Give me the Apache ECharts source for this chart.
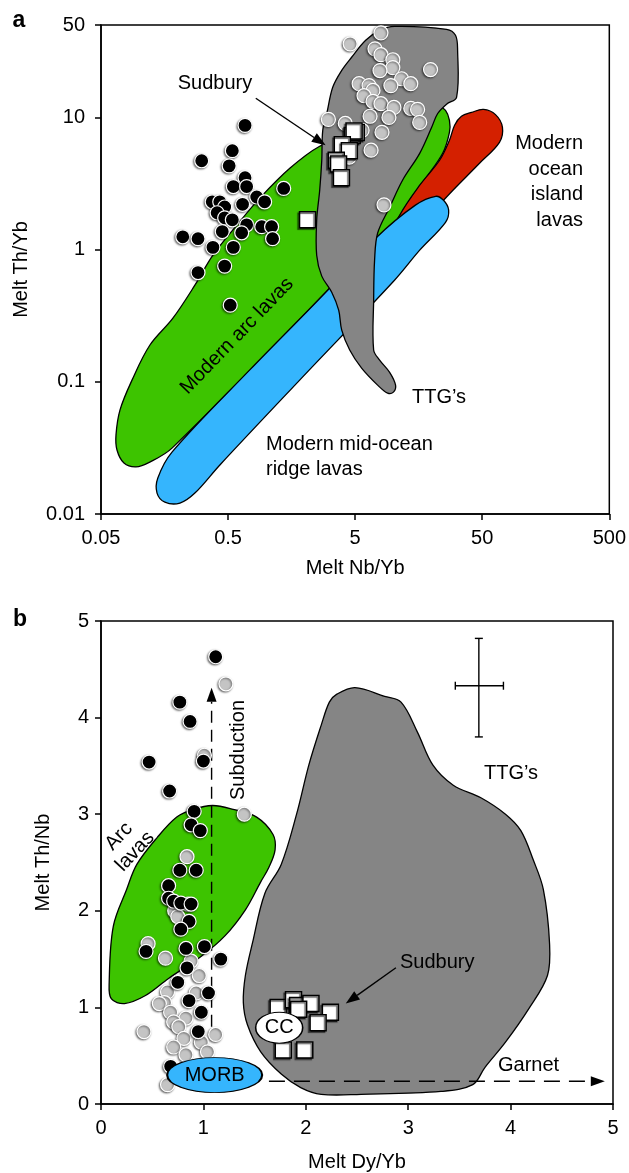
<!DOCTYPE html>
<html>
<head>
<meta charset="utf-8">
<script src="https://cdn.jsdelivr.net/npm/echarts@6/dist/echarts.min.js"></script>
<style>
  html, body { margin: 0; background: #fff; }
  #chart { width: 629px; height: 1173px; }
</style>
</head>
<body>
<div id="chart"></div>
<script>
// ---------- panel a : melt Nb/Yb vs melt Th/Yb (log-log) ----------
const xTicksA = [0.05, 0.5, 5, 50, 500]
const yTicksA = [0.01, 0.1, 1, 10, 50]

// black circles
const blackA = [
  [0.68, 8.7], [0.54, 5.6], [0.31, 4.7], [0.51, 4.3], [0.68, 3.5], [0.55, 3.0], [0.70, 3.0],
  [0.84, 2.5], [0.97, 2.3], [0.375, 2.3], [0.43, 2.3], [0.47, 2.1], [0.65, 2.2], [0.41, 1.9],
  [0.47, 1.74], [0.54, 1.68], [0.70, 1.54], [0.92, 1.49], [1.10, 1.49], [0.45, 1.37], [0.64, 1.34],
  [1.12, 1.21], [0.22, 1.25], [0.29, 1.21], [0.38, 1.04], [0.55, 1.04], [0.47, 0.75], [0.29, 0.67],
  [0.52, 0.38], [1.37, 2.9]
]
// grey circles
const greyA = [
  [7.98, 43.6], [4.57, 36], [7.16, 33], [7.98, 29.8], [9.9, 27.3], [19.6, 23], [9.9, 23.8],
  [7.84, 22.6], [11.6, 19.6], [13.7, 18], [5.37, 18], [6.43, 17.4], [6.91, 16], [9.55, 17.4],
  [5.87, 14.6], [6.91, 13.2], [7.98, 12.7], [10.1, 11.9], [13.7, 11.7], [15.5, 11.5], [6.55, 10.2],
  [9.22, 10], [16.1, 9.17], [3.08, 9.66], [4.18, 9.0], [5.67, 7.98], [8.13, 7.71], [6.67, 5.65],
  [8.43, 2.18], [4.49, 5.0]
]
// Sudbury squares
const sudburyA = [
  [4.74, 7.3], [5.1, 7.7], [4.9, 7.9], [3.96, 6.2], [4.5, 5.6], [3.55, 4.75], [3.7, 4.45],
  [3.9, 3.5], [2.11, 1.68]
]
const sudburyArrowA = [[0.826, 13.95], [2.93, 6.15]]

// fields (outline vertices)
const arcFieldA = [
  [23.1, 11.9], [25.7, 11.3], [27.6, 9.51], [27.6, 7.72], [24.4, 5.35], [18.2, 3.53], [13.4, 2.36],
  [10.6, 1.67], [7.79, 1.18], [4.53, 0.803], [3.04, 0.493], [0.181, 0.0315], [0.121, 0.0247],
  [0.0942, 0.0227], [0.0758, 0.0243], [0.0668, 0.0305], [0.0656, 0.0395], [0.0705, 0.0611],
  [0.0877, 0.103], [0.121, 0.189], [0.184, 0.303], [0.274, 0.538], [0.380, 0.907], [0.586, 1.53],
  [0.888, 2.45], [1.53, 4.12], [2.63, 6.05], [5.42, 7.99], [16.1, 10.9]
]
const oibFieldA = [
  [41.2, 10.9], [51.1, 11.5], [63.6, 10.5], [72.1, 8.42], [68.3, 6.48], [47.6, 4.50], [24.8, 2.36],
  [17.6, 1.53], [12.2, 1.08], [9.34, 1.18], [11.2, 1.82], [16.1, 3.07], [23.1, 4.74], [27.6, 6.71],
  [30.3, 8.72], [34.3, 10.2]
]
const morbFieldA = [
  [21.5, 2.53], [24.8, 2.36], [27.2, 1.99], [25.7, 1.61], [16.1, 0.990], [10.2, 0.587], [1.83, 0.103],
  [0.431, 0.0235], [0.274, 0.0144], [0.209, 0.0121], [0.159, 0.0123], [0.138, 0.0144], [0.140, 0.0187],
  [0.181, 0.0294], [0.741, 0.123], [3.04, 0.493], [7.25, 1.22], [14.9, 2.17]
]
const ttgFieldA = [
  [2.73, 4.74], [2.78, 7.99], [2.99, 10.7], [3.33, 16.9], [3.92, 22.7], [4.69, 28.5], [6.05, 38.3],
  [7.79, 45.5], [10.2, 48.8], [26.2, 46.4], [30.8, 41.8], [32.0, 32.2], [31.4, 14.2], [26.2, 12.6],
  [22.3, 10.7], [20.0, 8.42], [16.1, 5.35], [11.8, 3.35], [9.34, 2.09], [7.51, 1.33], [7.11, 0.832],
  [6.99, 0.415], [6.99, 0.174], [7.79, 0.146], [9.34, 0.118], [10.4, 0.0944], [10.0, 0.0836],
  [9.0, 0.0821], [7.51, 0.0944], [5.62, 0.127], [4.53, 0.174], [3.92, 0.246], [3.71, 0.348],
  [3.27, 0.476], [2.73, 0.630], [2.49, 0.907], [2.49, 1.67], [2.63, 2.81]
]

// ---------- panel b : melt Dy/Yb vs melt Th/Nb ----------
const xTicksB = [0, 1, 2, 3, 4, 5]
const yTicksB = [0, 1, 2, 3, 4, 5]

const blackB = [
  [1.12, 4.63], [0.77, 4.16], [0.87, 3.96], [0.47, 3.54], [1.00, 3.55], [0.67, 3.24], [0.91, 3.03],
  [0.88, 2.89], [0.97, 2.83], [0.77, 2.42], [0.93, 2.42], [0.66, 2.26], [0.66, 2.13], [0.71, 2.10],
  [0.78, 2.08], [0.88, 2.07], [0.86, 1.89], [0.78, 1.81], [0.44, 1.58], [0.83, 1.61], [1.01, 1.63],
  [1.17, 1.50], [0.84, 1.41], [0.75, 1.26], [1.05, 1.15], [0.86, 1.07], [0.98, 0.95], [0.95, 0.75],
  [0.68, 0.39]
]
const greyB = [
  [1.22, 4.35], [1.01, 3.61], [1.40, 3.00], [0.84, 2.56], [0.85, 2.07], [0.72, 2.0], [0.75, 1.94],
  [0.46, 1.66], [0.63, 1.51], [0.88, 1.48], [0.96, 1.33], [0.65, 1.16], [0.93, 1.15], [0.62, 1.05],
  [0.57, 1.04], [0.68, 0.95], [0.83, 0.89], [0.71, 0.85], [0.76, 0.80], [0.42, 0.75], [1.12, 0.72],
  [0.81, 0.68], [0.98, 0.64], [0.71, 0.59], [1.04, 0.54], [0.83, 0.51], [0.65, 0.20]
]
const sudburyB = [
  [1.73, 1.00], [1.88, 1.08], [1.92, 1.02], [2.05, 1.04], [2.24, 0.95], [1.93, 0.98], [2.12, 0.84],
  [1.78, 0.56], [1.99, 0.56]
]
const morbB = [[1.11, 0.30]]
const ccB = [[1.74, 0.79]]
const subductionArrow = [[1.08, 0.80], [1.08, 4.31]]
const garnetArrow = [[1.64, 0.235], [4.92, 0.235]]
const sudburyArrowB = [[2.88, 1.41], [2.39, 1.04]]
const errorCentre = [3.69, 4.33]
const errorX = [3.46, 3.93]
const errorY = [3.80, 4.82]

const arcFieldB = [
  [1.09, 3.09], [1.29, 3.05], [1.52, 2.97], [1.68, 2.79], [1.70, 2.63], [1.64, 2.45], [1.56, 2.30],
  [1.41, 2.01], [1.21, 1.74], [0.98, 1.53], [0.66, 1.30], [0.43, 1.12], [0.23, 1.04], [0.10, 1.09],
  [0.08, 1.26], [0.12, 1.84], [0.25, 2.22], [0.35, 2.48], [0.55, 2.76], [0.74, 2.97], [0.90, 3.05]
]
const ttgFieldB = [
  [2.48, 4.31], [2.77, 4.22], [2.93, 4.16], [3.09, 3.85], [3.24, 3.51], [3.44, 3.30], [3.71, 3.17],
  [3.95, 3.00], [4.10, 2.83], [4.22, 2.53], [4.32, 2.22], [4.38, 1.67], [4.36, 1.33], [4.18, 0.99],
  [3.95, 0.64], [3.75, 0.38], [3.63, 0.20], [3.32, 0.13], [2.54, 0.10], [2.15, 0.10], [1.95, 0.17],
  [1.76, 0.31], [1.56, 0.54], [1.43, 0.82], [1.39, 1.05], [1.41, 1.33], [1.48, 1.67], [1.60, 2.18],
  [1.76, 2.48], [1.91, 3.00], [2.03, 3.51], [2.15, 3.92], [2.23, 4.16], [2.30, 4.24]
]

// ---------- chart ----------
const FONT = '"Liberation Sans", Arial, sans-serif'
const GREEN = '#3dc400'
const BLUE = '#35b5fd'
const RED = '#d42000'
const GREY = '#858585'

// panel a is drawn on value axes holding log10 values
const logA = p => [Math.log10(p[0] / xTicksA[0]), Math.log10(p[1])]
const linB = p => p
const fmt = v => String(Number(v.toPrecision(2)))

const chart = echarts.init(document.getElementById('chart'))

function field(points, color, idx, tf) {
  return {
    type: 'custom',
    xAxisIndex: idx,
    yAxisIndex: idx,
    silent: true,
    clip: true,
    data: [[tf(points[0])[0], tf(points[0])[1]]],
    renderItem: (params, api) => ({
      type: 'polygon',
      shape: { points: points.map(p => api.coord(tf(p))), smooth: 0.35 },
      style: { fill: color, stroke: '#000', lineWidth: 1.3 }
    })
  }
}

function arrow(pts, idx, tf, dash) {
  return {
    type: 'custom',
    xAxisIndex: idx,
    yAxisIndex: idx,
    silent: true,
    data: [tf(pts[0])],
    renderItem: (params, api) => {
      const a = api.coord(tf(pts[0]))
      const b = api.coord(tf(pts[1]))
      const ang = Math.atan2(b[1] - a[1], b[0] - a[0])
      const len = 14, half = 5
      const base = [b[0] - len * Math.cos(ang), b[1] - len * Math.sin(ang)]
      const l = [base[0] + half * Math.sin(ang), base[1] - half * Math.cos(ang)]
      const r = [base[0] - half * Math.sin(ang), base[1] + half * Math.cos(ang)]
      return {
        type: 'group',
        children: [
          { type: 'line', shape: { x1: a[0], y1: a[1], x2: base[0], y2: base[1] },
            style: { stroke: '#000', lineWidth: 1.4, lineDash: dash || null } },
          { type: 'polygon', shape: { points: [b, l, r] }, style: { fill: '#000' } }
        ]
      }
    }
  }
}

function dots(points, color, idx, tf) {
  return {
    type: 'scatter',
    xAxisIndex: idx,
    yAxisIndex: idx,
    silent: true,
    symbol: 'circle',
    symbolSize: 14,
    data: points.map(tf),
    itemStyle: {
      color: color, borderColor: '#fff', borderWidth: 1.2, opacity: 1,
      shadowColor: 'rgba(0,0,0,0.55)', shadowBlur: 2, shadowOffsetX: -1, shadowOffsetY: 1
    }
  }
}

function squares(points, idx, tf) {
  return {
    type: 'scatter',
    xAxisIndex: idx,
    yAxisIndex: idx,
    silent: true,
    symbol: 'rect',
    symbolSize: 16,
    data: points.map(tf),
    itemStyle: {
      color: '#fff', borderColor: '#000', borderWidth: 1.5, opacity: 1,
      shadowColor: 'rgba(0,0,0,0.6)', shadowBlur: 1, shadowOffsetX: -1.5, shadowOffsetY: 1.5
    }
  }
}

const axisCommon = {
  axisLine: { onZero: false, lineStyle: { color: '#000', width: 1.5 } },
  axisTick: { length: 6, lineStyle: { color: '#000', width: 1.5 } },
  splitLine: { show: false },
  nameLocation: 'middle',
  nameTextStyle: { fontFamily: FONT, fontSize: 20, color: '#000' }
}

function label(text, x, y, opts) {
  const o = opts || {}
  return {
    type: 'text',
    x: x,
    y: y,
    rotation: o.rotation || 0,
    silent: true,
    z: 100,
    style: {
      text: text,
      font: (o.weight || 'normal') + ' ' + (o.size || 20) + 'px ' + FONT,
      fill: '#000',
      align: o.align || 'center',
      textAlign: o.align || 'center',
      verticalAlign: 'middle',
      textVerticalAlign: 'middle',
      lineHeight: o.lineHeight || 24
    }
  }
}

chart.setOption({
  animation: false,
  backgroundColor: '#fff',
  textStyle: { fontFamily: FONT },
  grid: [
    { left: 101, top: 25, width: 509, height: 489, show: true, borderColor: '#000', borderWidth: 1.5 },
    { left: 101, top: 621, width: 512, height: 489, show: true, borderColor: '#000', borderWidth: 1.5 }
  ],
  xAxis: [
    Object.assign({}, axisCommon, {
      gridIndex: 0, type: 'value', min: 0, max: 4, interval: 1,
      name: 'Melt Nb/Yb', nameGap: 44,
      axisLabel: { margin: 14, fontSize: 20, color: '#000', fontFamily: FONT,
        formatter: v => fmt(xTicksA[0] * Math.pow(10, v)) }
    }),
    Object.assign({}, axisCommon, {
      gridIndex: 1, type: 'value', min: xTicksB[0], max: xTicksB[xTicksB.length - 1], interval: 1,
      name: 'Melt Dy/Yb', nameGap: 48,
      axisLabel: { margin: 14, fontSize: 20, color: '#000', fontFamily: FONT }
    })
  ],
  yAxis: [
    Object.assign({}, axisCommon, {
      gridIndex: 0, type: 'value', min: Math.log10(yTicksA[0]),
      max: Math.log10(yTicksA[yTicksA.length - 1]), interval: 1,
      name: 'Melt Th/Yb', nameGap: 70,
      axisLabel: { margin: 16, fontSize: 20, color: '#000', fontFamily: FONT,
        formatter: v => fmt(Math.pow(10, v)) }
    }),
    Object.assign({}, axisCommon, {
      gridIndex: 1, type: 'value', min: yTicksB[0], max: yTicksB[yTicksB.length - 1], interval: 1,
      name: 'Melt Th/Nb', nameGap: 48,
      axisLabel: { margin: 12, fontSize: 20, color: '#000', fontFamily: FONT }
    })
  ],
  series: [
    // panel a
    field(arcFieldA, GREEN, 0, logA),
    field(oibFieldA, RED, 0, logA),
    field(morbFieldA, BLUE, 0, logA),
    field(ttgFieldA, GREY, 0, logA),
    arrow(sudburyArrowA, 0, logA),
    dots(greyA, '#c4c4c4', 0, logA),
    dots(blackA, '#000', 0, logA),
    squares(sudburyA, 0, logA),

    // panel b
    field(ttgFieldB, GREY, 1, linB),
    field(arcFieldB, GREEN, 1, linB),
    {
      type: 'custom', xAxisIndex: 1, yAxisIndex: 1, silent: true,
      data: [errorCentre],
      renderItem: (params, api) => {
        const c = api.coord(errorCentre)
        const x0 = api.coord([errorX[0], errorCentre[1]])[0]
        const x1 = api.coord([errorX[1], errorCentre[1]])[0]
        const y0 = api.coord([errorCentre[0], errorY[0]])[1]
        const y1 = api.coord([errorCentre[0], errorY[1]])[1]
        const st = { stroke: '#000', lineWidth: 1.4 }
        const cap = 4
        return {
          type: 'group',
          children: [
            { type: 'line', shape: { x1: x0, y1: c[1], x2: x1, y2: c[1] }, style: st },
            { type: 'line', shape: { x1: c[0], y1: y0, x2: c[0], y2: y1 }, style: st },
            { type: 'line', shape: { x1: x0, y1: c[1] - cap, x2: x0, y2: c[1] + cap }, style: st },
            { type: 'line', shape: { x1: x1, y1: c[1] - cap, x2: x1, y2: c[1] + cap }, style: st },
            { type: 'line', shape: { x1: c[0] - cap, y1: y0, x2: c[0] + cap, y2: y0 }, style: st },
            { type: 'line', shape: { x1: c[0] - cap, y1: y1, x2: c[0] + cap, y2: y1 }, style: st }
          ]
        }
      }
    },
    arrow(subductionArrow, 1, linB, [12, 7]),
    arrow(garnetArrow, 1, linB, [16, 9]),
    arrow(sudburyArrowB, 1, linB),
    dots(greyB, '#c4c4c4', 1, linB),
    dots(blackB, '#000', 1, linB),
    squares(sudburyB, 1, linB),
    {
      type: 'scatter', xAxisIndex: 1, yAxisIndex: 1, silent: true,
      symbol: 'circle', symbolSize: [95, 35], data: morbB,
      itemStyle: { color: BLUE, borderColor: '#000', borderWidth: 1.3, opacity: 1 },
      label: { show: true, position: 'inside', formatter: 'MORB', fontSize: 20, color: '#000', fontFamily: FONT }
    },
    {
      type: 'scatter', xAxisIndex: 1, yAxisIndex: 1, silent: true,
      symbol: 'circle', symbolSize: [47, 31], data: ccB,
      itemStyle: { color: '#fff', borderColor: '#000', borderWidth: 1.3, opacity: 1 },
      label: { show: true, position: 'inside', formatter: 'CC', fontSize: 20, color: '#000', fontFamily: FONT }
    }
  ],
  graphic: [
    label('a', 19, 21, { weight: 'bold', size: 23 }),
    label('Sudbury', 215, 83),
    label('Modern\nocean\nisland\nlavas', 583, 182, { align: 'right', lineHeight: 25.7 }),
    label('Modern arc lavas', 237, 336, { rotation: 46 * Math.PI / 180 }),
    label('TTG\u2019s', 412, 397, { align: 'left' }),
    label('Modern mid-ocean\nridge lavas', 266, 457, { align: 'left', lineHeight: 25 }),

    label('b', 20, 620, { weight: 'bold', size: 23 }),
    label('Subduction', 238, 750, { rotation: Math.PI / 2 }),
    label('Arc\nlavas', 127, 844, { rotation: 47 * Math.PI / 180, lineHeight: 22 }),
    label('TTG\u2019s', 484, 773, { align: 'left' }),
    label('Sudbury', 400, 962, { align: 'left' }),
    label('Garnet', 498, 1065, { align: 'left' })
  ]
})

window.addEventListener('resize', () => chart.resize())
</script>
</body>
</html>
